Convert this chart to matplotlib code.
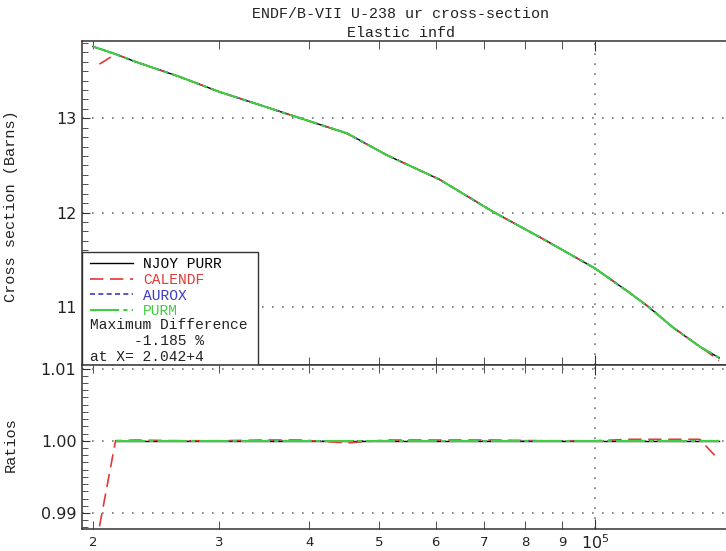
import numpy as np
import matplotlib
matplotlib.use('Agg')
import matplotlib.pyplot as plt
from matplotlib.lines import Line2D
from matplotlib.patches import Rectangle
from matplotlib.ticker import (LogLocator, MultipleLocator, FuncFormatter,
                               LogFormatterMathtext, FormatStrFormatter)

# U-238 elastic (infinite dilution) on the NJOY grid, energy in eV, xs in barns
energy = [2.000e4, 2.150e4, 2.290e4, 2.640e4, 3.000e4, 3.450e4, 3.890e4, 4.520e4,
          5.130e4, 6.080e4, 7.210e4, 8.380e4, 1.000e5, 1.118e5, 1.188e5, 1.286e5,
          1.400e5, 1.490e5]
njoy_xs = [13.76, 13.68, 13.60, 13.44, 13.28, 13.13, 13.00, 12.84,
           12.61, 12.35, 12.01, 11.74, 11.41, 11.15, 11.00, 10.78,
           10.58, 10.46]

# ratios to NJOY PURR
aurox_ratio = [1.0000, 1.0000, 0.99995, 1.0000, 0.99995, 1.0000, 1.0000, 0.99995,
               1.0000, 0.99995, 1.0000, 1.0000, 0.99995, 1.0000, 1.0000, 0.99995,
               1.0000, 1.0000]
purm_ratio = [1.0000, 1.0000, 1.0000, 1.0000, 1.0000, 1.0000, 1.0000, 1.0000,
              1.0000, 1.0000, 1.0000, 1.0000, 1.0000, 1.0000, 1.0000, 1.0000,
              1.0000, 1.0000]
calendf_energy = [2.042e4, 2.150e4, 2.290e4, 2.640e4, 3.000e4, 3.450e4, 3.890e4, 4.520e4,
                  5.130e4, 6.080e4, 7.210e4, 8.380e4, 1.000e5, 1.118e5, 1.188e5, 1.286e5,
                  1.400e5, 1.490e5]
calendf_ratio = [0.98815, 1.0000, 1.0001, 1.0000, 1.0000, 1.0001, 1.0001, 0.9997,
                 1.0001, 1.0001, 1.0001, 1.0000, 1.0000, 1.0002, 1.0002, 1.0002,
                 1.0002, 0.9973]

energy = np.array(energy)
njoy_xs = np.array(njoy_xs)
calendf_energy = np.array(calendf_energy)
calendf_ratio = np.array(calendf_ratio)
aurox_xs = njoy_xs * np.array(aurox_ratio)
purm_xs = njoy_xs * np.array(purm_ratio)
calendf_xs = np.interp(np.log(calendf_energy), np.log(energy), njoy_xs) * calendf_ratio

# largest deviation of CALENDF
imax = np.argmax(np.abs(calendf_ratio - 1.0))
max_diff = (calendf_ratio[imax] - 1.0) * 100.0
e_exp = int(np.floor(np.log10(calendf_energy[imax])))
e_str = '%.3f+%d' % (calendf_energy[imax] / 10 ** e_exp, e_exp)

RED = '#e23a34'
BLUE = '#3a3ac8'
GREEN = '#3fcf3f'
TXT = '#222222'
mono = 'Liberation Mono'

styles = {
    'NJOY PURR': dict(color='black', lw=1.0, linestyle='-'),
    'CALENDF': dict(color=RED, lw=1.2, linestyle=(0, (8, 4))),
    'AUROX': dict(color=BLUE, lw=1.2, linestyle=(0, (3, 2))),
    'PURM': dict(color=GREEN, lw=1.5, linestyle=(0, (14, 2, 2, 2))),
}

W, H = 726, 551
fig = plt.figure(figsize=(W / 100, H / 100), dpi=100)


def px_axes(x0, y0, x1, y1):
    return fig.add_axes([x0 / W, 1 - y1 / H, (x1 - x0) / W, (y1 - y0) / H])


ax1 = px_axes(82, 41, 741.4, 364.5)
ax2 = px_axes(82, 364.5, 741.4, 529)

# ---- cross sections
ax1.plot(energy, njoy_xs, **styles['NJOY PURR'])
ax1.plot(calendf_energy, calendf_xs, **styles['CALENDF'])
ax1.plot(energy, aurox_xs, **styles['AUROX'])
ax1.plot(energy, purm_xs, **styles['PURM'])

# ---- ratios
ax2.plot(energy[1:], njoy_xs[1:] / njoy_xs[1:], **styles['NJOY PURR'])
ax2.plot(calendf_energy, calendf_ratio, **styles['CALENDF'])
ax2.plot(energy[1:], np.array(aurox_ratio)[1:], **styles['AUROX'])
ax2.plot(energy[1:], np.array(purm_ratio)[1:], **styles['PURM'])

for ax in (ax1, ax2):
    ax.set_xscale('log')
    ax.set_xlim(1.9306e4, 1.6e5)
    ax.xaxis.set_major_locator(LogLocator(base=10))
    ax.xaxis.set_minor_locator(LogLocator(base=10, subs=np.arange(2, 10)))
    ax.set_axisbelow(True)
    ax.grid(which='major', linestyle=(0, (1, 5)), color='#777777', lw=1.2)
    ax.tick_params(which='both', direction='in', top=True, bottom=True,
                   left=True, right=False, colors='#333333', labelcolor=TXT)
    ax.tick_params(axis='x', which='major', length=7)
    ax.tick_params(axis='x', which='minor', length=6)
    ax.tick_params(axis='y', which='major', length=6, labelsize=11.5, pad=4)
    ax.tick_params(axis='y', which='minor', length=4)
    for s in ax.spines.values():
        s.set_color('#333333')
        s.set_linewidth(1.1)

ax1.set_ylim(10.39, 13.819)
ax1.yaxis.set_major_locator(MultipleLocator(1))
ax1.yaxis.set_minor_locator(MultipleLocator(0.1))
ax1.yaxis.set_major_formatter(FormatStrFormatter('%d'))
ax1.tick_params(axis='x', which='both', labelbottom=False)

ax2.set_ylim(0.98778, 1.01056)
ax2.yaxis.set_major_locator(MultipleLocator(0.01))
ax2.yaxis.set_minor_locator(MultipleLocator(0.001))
ax2.yaxis.set_major_formatter(FormatStrFormatter('%.2f'))
ax2.xaxis.set_major_formatter(LogFormatterMathtext())
ax2.xaxis.set_minor_formatter(
    FuncFormatter(lambda v, p: '%d' % round(v / 10 ** np.floor(np.log10(v)))))
ax2.tick_params(axis='x', which='major', labelsize=11.5, pad=3)
ax2.tick_params(axis='x', which='minor', labelsize=9.5, pad=5)

ax1.set_ylabel('Cross section (Barns)', family=mono, fontsize=11, color=TXT)
ax2.set_ylabel('Ratios', family=mono, fontsize=11, color=TXT)
ax1.yaxis.set_label_coords(-0.097, 0.49)
ax2.yaxis.set_label_coords(-0.097, 0.51)

fig.text(0.552, 0.988, 'ENDF/B-VII U-238 ur cross-section\nElastic infd',
         ha='center', va='top', family=mono, fontsize=10.8, color=TXT,
         linespacing=1.45)

# ---- legend box with the max difference note
ax1.add_patch(Rectangle((0, 0), 0.267, 0.348, transform=ax1.transAxes,
                        facecolor='white', edgecolor='#333333', lw=1.0, zorder=3))
labels = list(styles.keys())
handles = [Line2D([], [], **styles[k]) for k in labels]
leg = ax1.legend(handles, labels, loc='upper left', bbox_to_anchor=(0.0121, 0.333),
                 frameon=False, prop={'family': mono, 'size': 10.5},
                 handlelength=2.95, handletextpad=0.69, labelspacing=0.13,
                 borderpad=0, borderaxespad=0,
                 labelcolor=['black', RED, BLUE, GREEN])
leg.set_zorder(5)
ax1.text(0.0121, 0.122, 'Maximum Difference', transform=ax1.transAxes,
         family=mono, fontsize=10.5, color=TXT, va='center', zorder=6)
ax1.text(0.0789, 0.0726, '%.3f %%' % max_diff, transform=ax1.transAxes,
         family=mono, fontsize=10.5, color=TXT, va='center', zorder=6)
ax1.text(0.0121, 0.023, 'at X= ' + e_str, transform=ax1.transAxes,
         family=mono, fontsize=10.5, color=TXT, va='center', zorder=6)

fig.savefig('out.png', dpi=100)
